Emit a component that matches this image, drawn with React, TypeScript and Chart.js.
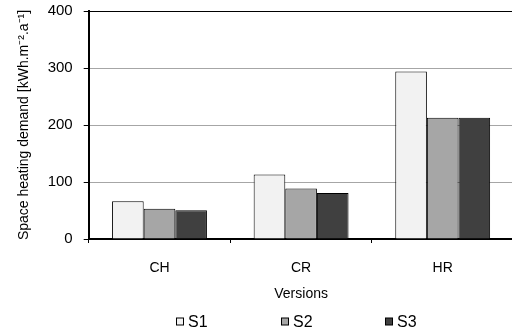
import React, { useEffect, useRef } from "react";
import { Chart, registerables } from "chart.js";

Chart.register(...registerables);

const categories = ["CH", "CR", "HR"];
const seriesNames = ["S1", "S2", "S3"];
const s1Values = [66.4, 113.3, 293.7];
const s2Values = [52.9, 88.6, 212.7];
const s3Values = [50.6, 80.5, 212.7];
const seriesColors = ["#f2f2f2", "#a6a6a6", "#404040"];
const yTicks = [0, 100, 200, 300, 400];
const yTitle = "Space heating demand [kWh.m\u207B\u00B2.a\u207B\u00B9]";
const xTitle = "Versions";

const FONT = "'Liberation Sans', Arial, sans-serif";

const legendPlugin = {
  id: "customLegend",
  afterDraw(chart: any) {
    const ctx = chart.ctx;
    const area = chart.chartArea;
    const cx = (area.left + area.right) / 2;
    const spacing = 104.5;
    const y = 322.5;
    ctx.save();
    ctx.font = "16px " + FONT;
    ctx.textBaseline = "middle";
    ctx.textAlign = "left";
    seriesNames.forEach((name, i) => {
      const boxLeft = Math.round(cx - 125 + i * spacing);
      ctx.fillStyle = seriesColors[i];
      ctx.fillRect(boxLeft + 0.5, y - 4.5, 7, 7);
      ctx.strokeStyle = "#000";
      ctx.lineWidth = 1;
      ctx.strokeRect(boxLeft + 0.5, y - 4.5, 7, 7);
      ctx.fillStyle = "#000";
      ctx.fillText(name, boxLeft + 12, y);
    });
    ctx.restore();
  },
};

export default function App() {
  const ref = useRef<HTMLCanvasElement | null>(null);
  useEffect(() => {
    if (!ref.current) return;
    Chart.defaults.font.family = FONT;
    Chart.defaults.color = "#000";
    const values = [s1Values, s2Values, s3Values];
    const chart = new Chart(ref.current, {
      type: "bar",
      data: {
        labels: categories,
        datasets: seriesNames.map((name, i) => ({
          label: name,
          data: values[i],
          backgroundColor: seriesColors[i],
          borderColor: "#000",
          borderWidth: 1,
          categoryPercentage: 0.67,
          barPercentage: 1.0,
        })),
      },
      options: {
        responsive: false,
        animation: false,
        devicePixelRatio: 1,
        layout: { padding: { left: 0, right: 6.5, top: 11, bottom: 23 } },
        plugins: {
          legend: { display: false },
          tooltip: { enabled: false },
        },
        scales: {
          x: {
            afterFit: (s: any) => {
              s.height = 72;
              s.paddingLeft = 0;
              s.paddingRight = 0;
            },
            grid: {
              display: true,
              drawOnChartArea: false,
              drawTicks: true,
              tickLength: 4,
              tickColor: "#000",
              offset: true,
            },
            border: { display: true, color: "#000", width: 2 },
            ticks: { padding: 17, font: { size: 14 }, color: "#000" },
            title: {
              display: true,
              text: xTitle,
              font: { size: 14 },
              color: "#000",
              padding: { top: 10, bottom: 8.4 },
            },
          },
          y: {
            min: 0,
            max: 400,
            afterFit: (s: any) => {
              s.width = 88.7;
              s.paddingTop = 0;
              s.paddingBottom = 0;
            },
            afterBuildTicks: (scale: any) => {
              scale.ticks = yTicks.map((v) => ({ value: v }));
            },
            grid: {
              color: (c: any) => (c.tick && c.tick.value === 400 ? "#000" : "#a6a6a6"),
              lineWidth: 1,
              drawTicks: true,
              tickLength: 5,
              tickColor: "#000",
            },
            border: { display: true, color: "#000", width: 2 },
            ticks: { padding: 11, font: { size: 15 }, color: "#000" },
            title: {
              display: true,
              text: yTitle,
              font: { size: 14 },
              color: "#000",
              padding: { top: 15.6, bottom: 17 },
            },
          },
        },
      },
      plugins: [legendPlugin],
    });
    return () => chart.destroy();
  }, []);
  return (
    <div style={{ position: "fixed", left: 0, top: 0, width: 520, height: 334, background: "#fff" }}>
      <canvas ref={ref} width={520} height={334} />
    </div>
  );
}
